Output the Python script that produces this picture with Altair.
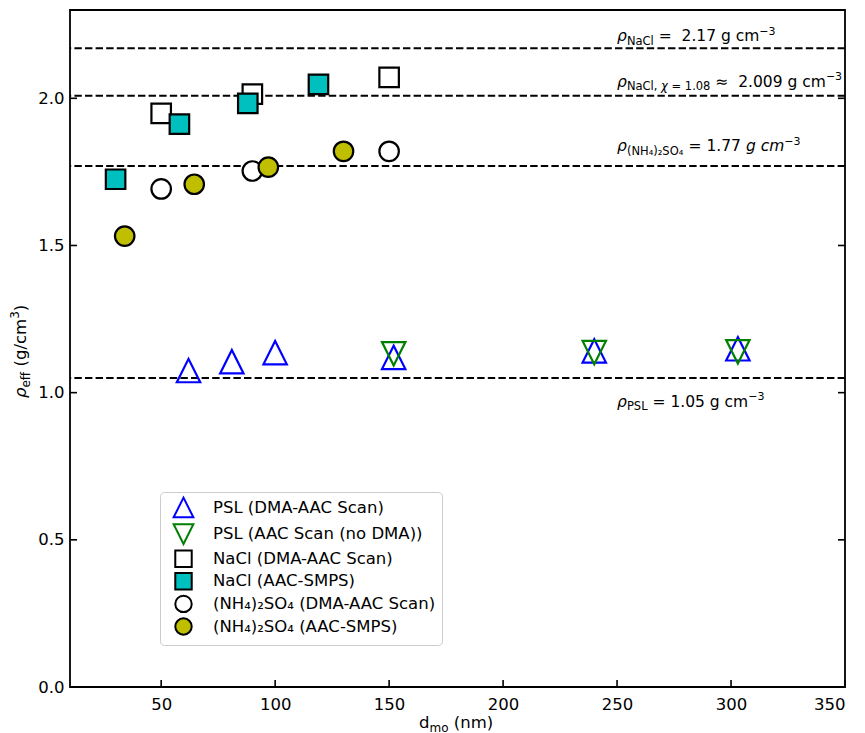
import altair as alt
import pandas as pd

FONT = "DejaVu Sans"
NB = "\u00a0"

# ---------------- data ----------------
series_names = [
    "PSL (DMA-AAC Scan)",
    "PSL (AAC Scan (no DMA))",
    "NaCl (DMA-AAC Scan)",
    "NaCl (AAC-SMPS)",
    "(NH₄)₂SO₄ (DMA-AAC Scan)",
    "(NH₄)₂SO₄ (AAC-SMPS)",
]
psl_dma_x = [62, 81, 100, 152, 240, 303]
psl_dma_y = [1.075, 1.105, 1.136, 1.12, 1.142, 1.149]
psl_aac_x = [152, 240, 303]
psl_aac_y = [1.132, 1.136, 1.139]
nacl_dma_x = [50, 90, 150]
nacl_dma_y = [1.949, 2.014, 2.071]
nacl_smps_x = [30, 58, 88, 119]
nacl_smps_y = [1.725, 1.912, 1.983, 2.047]
as_dma_x = [50, 90, 150]
as_dma_y = [1.692, 1.753, 1.820]
as_smps_x = [34, 64.5, 97, 130]
as_smps_y = [1.532, 1.708, 1.766, 1.820]

ref_values = [2.17, 2.009, 1.77, 1.05]
x_ticks = [50, 100, 150, 200, 250, 300, 350]
y_ticks = [0.0, 0.5, 1.0, 1.5, 2.0]
annot_x = 250

# ---------------- styles ----------------
W, H = 775, 677
shapes = ["M0,-1.2L1.2,1.2L-1.2,1.2Z", "M0,1.2L1.2,-1.2L-1.2,-1.2Z",
          "square", "square", "circle", "circle"]
strokes = ["#0000FF", "#008000", "black", "black", "black", "black"]
fills = ["transparent", "transparent", "white", "#00BFBF", "white", "#BFBF00"]

xs = [psl_dma_x, psl_aac_x, nacl_dma_x, nacl_smps_x, as_dma_x, as_smps_x]
ys = [psl_dma_y, psl_aac_y, nacl_dma_y, nacl_smps_y, as_dma_y, as_smps_y]
rows = []
for i, name in enumerate(series_names):
    for xv, yv in zip(xs[i], ys[i]):
        rows.append({"series": name, "order": i, "d": xv, "rho": yv, "sz": "m"})
pts = pd.DataFrame(rows)

xscale = alt.Scale(domain=[10, 350], nice=False, zero=False)
yscale = alt.Scale(domain=[0, 2.3], nice=False, zero=False)
xaxis = alt.Axis(values=x_ticks, ticks=False, domain=False, grid=False, labelFont=FONT,
                 labelFontSize=16.5, labelColor="black", labelPadding=9, title=None)
yaxis = alt.Axis(values=y_ticks, format=".1f", ticks=False, domain=False, grid=False,
                 labelFont=FONT, labelFontSize=16.5, labelColor="black", labelPadding=6,
                 title=None)


def X(f):
    return alt.X(f, scale=xscale, axis=xaxis)


def Y(f):
    return alt.Y(f, scale=yscale, axis=yaxis)


ADV = {' ': 651, NB: 651, '(': 799, ')': 799, '.': 651, ',': 651, '=': 1716, '≈': 1716,
       '−': 1716, '-': 739, 'C': 1430, 'H': 1540, 'L': 1141, 'N': 1532, 'O': 1612,
       'P': 1235, 'S': 1300, 'a': 1255, 'c': 1126, 'e': 1260, 'f': 721, 'g': 1300,
       'l': 569, 'm': 1995, 'n': 1298, 'o': 1253, 'd': 1300, '/': 690, 'ρ': 1300,
       'χ': 1212, '₂': 840, '₄': 840}
for dch in "0123456789":
    ADV[dch] = 1303


def tw(s, size):
    return sum(ADV.get(ch, 1250) for ch in s) / 2048 * size


def rich(pieces, xenc, yenc, data, base_dy=0, angle=None):
    layers = []
    off = 0.0
    for txt, size, shift, style in pieces:
        lead = len(txt) - len(txt.lstrip(" "))
        off += tw(" " * lead, size)
        body = txt.lstrip(" ")
        shown = body.replace(" ", NB)
        kw = dict(align="left", baseline="alphabetic", font=FONT, fontSize=size,
                  dx=off, dy=base_dy + shift, color="black", text=shown)
        if style:
            kw["fontStyle"] = style
        if angle is not None:
            kw["angle"] = angle
        layers.append(alt.Chart(data).mark_text(**kw).encode(x=xenc, y=yenc))
        off += tw(body, size)
    return layers


# ---------------- layers ----------------
lines_df = pd.DataFrame({"v": ref_values})
ref_lines = alt.Chart(lines_df).mark_rule(
    color="black", strokeWidth=2, strokeDash=[7.4, 3.2]
).encode(y=Y("v:Q"))

legend = alt.Legend(
    title=None, orient="none", legendX=90, legendY=482,
    labelFont=FONT, labelFontSize=16.5, labelColor="black",
    symbolSize=270, symbolStrokeWidth=2, strokeColor="#cccccc",
    fillColor="white", cornerRadius=4, padding=6, rowPadding=-2.4,
    symbolOffset=8, labelOffset=20, labelLimit=400,
)
dom = series_names
points = alt.Chart(pts).mark_point(strokeWidth=2.2, opacity=1, fillOpacity=1).encode(
    x=X("d:Q"),
    y=Y("rho:Q"),
    shape=alt.Shape("series:N", scale=alt.Scale(domain=dom, range=shapes), legend=legend),
    stroke=alt.Stroke("series:N", scale=alt.Scale(domain=dom, range=strokes), legend=legend),
    fill=alt.Fill("series:N", scale=alt.Scale(domain=dom, range=fills), legend=legend),
    size=alt.Size("sz:N", scale=alt.Scale(type="ordinal", domain=["m"], range=[380]),
                  legend=None),
    order=alt.Order("order:Q"),
)

# inward ticks
xt_df = pd.DataFrame({"t": x_ticks})
yt_df = pd.DataFrame({"t": y_ticks})
tick_x = alt.Chart(xt_df).mark_rule(color="black", strokeWidth=1.6).encode(
    x=X("t:Q"), y=alt.value(H), y2=alt.value(H - 7))
tick_yl = alt.Chart(yt_df).mark_rule(color="black", strokeWidth=1.6).encode(
    y=Y("t:Q"), x=alt.value(0), x2=alt.value(7))
tick_yr = alt.Chart(yt_df).mark_rule(color="black", strokeWidth=1.6).encode(
    y=Y("t:Q"), x=alt.value(W), x2=alt.value(W - 7))

# annotations
MS, SS, PS = 15.5, 11.5, 11
annots = [
    [("ρ", MS, 0, "italic"), ("NaCl", SS, 3.5, None), (" =  2.17 g cm", MS, 0, None), ("−3", PS, -6.5, None)],
    [("ρ", MS, 0, "italic"), ("NaCl, ", SS, 3.5, None), ("χ", SS, 3.5, "italic"), (" = 1.08", SS, 3.5, None),
     (" ≈  2.009 g cm", MS, 0, None), ("−3", PS, -6.5, None)],
    [("ρ", MS, 0, "italic"), ("(NH₄)₂SO₄", SS, 3.5, None), (" = 1.77 ", MS, 0, None), ("g cm", MS, 0, "italic"),
     ("−3", PS, -6.5, None)],
    [("ρ", MS, 0, "italic"), ("PSL", SS, 3.5, None), (" = 1.05 g cm", MS, 0, None), ("−3", PS, -6.5, None)],
]
annot_dy = [-7, -9, -15, 29]
ann_layers = []
for pieces, v, ddy in zip(annots, ref_values, annot_dy):
    df = pd.DataFrame({"x": [annot_x], "y": [v]})
    ann_layers += rich(pieces, X("x:Q"), Y("y:Q"), df, base_dy=ddy)

# axis titles
one = pd.DataFrame({"k": [0]})
xtitle = rich([("d", 16.5, 0, None), ("mo", 12, 4, None), (" (nm)", 16.5, 0, None)],
              alt.value(349), alt.value(718), one)
ytitle = rich([("ρ", 16.5, 0, "italic"), ("eff", 12, 4, None), (" (g/cm", 16.5, 0, None),
               ("3", 12, -7, None), (")", 16.5, 0, None)],
              alt.value(-44), alt.value(388), one, angle=270)

chart = alt.layer(
    ref_lines, points, tick_x, tick_yl, tick_yr, *ann_layers, *xtitle, *ytitle
).properties(
    width=W, height=H,
    padding={"left": 70, "top": 10, "right": 20, "bottom": 46},
    autosize=alt.AutoSizeParams(type="none"),
    background="white",
).configure_view(stroke="black", strokeWidth=1.8)

chart.save("out.html", embed_options={"renderer": "svg", "actions": False})
